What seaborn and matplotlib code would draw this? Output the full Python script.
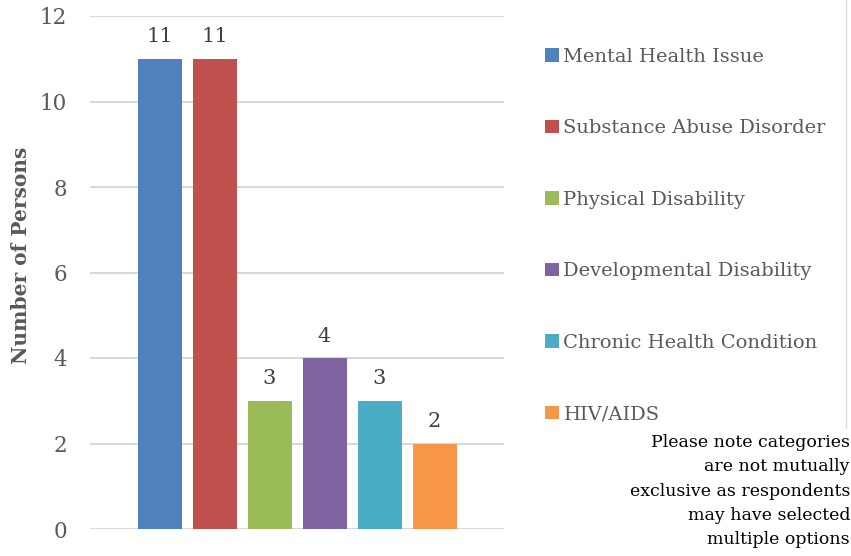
import matplotlib
matplotlib.use("Agg")
import matplotlib.pyplot as plt
import seaborn as sns
import pandas as pd
from matplotlib.lines import Line2D

categories = ["Mental Health Issue", "Substance Abuse Disorder", "Physical Disability",
              "Developmental Disability", "Chronic Health Condition", "HIV/AIDS"]
persons = [11, 11, 3, 4, 3, 2]
colors = ["#4F81BD", "#C0504D", "#9BBB59", "#8064A2", "#4BACC6", "#F79646"]
y_ticks = [0, 2, 4, 6, 8, 10, 12]
note = ("Please note categories\nare not mutually\nexclusive as respondents\n"
        "may have selected\nmultiple options")

sns.set_theme(style="white")
plt.rcParams["font.family"] = ["DejaVu Serif"]

df = pd.DataFrame({"category": categories, "persons": persons})

fig = plt.figure(figsize=(8.51, 5.56), dpi=100)
ax = fig.add_axes([90 / 851, 1 - 529 / 556, 414 / 851, 513 / 556])

sns.barplot(data=df, x="category", y="persons", hue="category",
            palette=colors, width=0.8, saturation=1, linewidth=0,
            legend=True, ax=ax)

ax.set_ylim(0, 12)
ax.set_yticks(y_ticks)
ax.set_xlim(2.5 - 414 / 55 / 2, 2.5 + 414 / 55 / 2)
ax.set_xticks([])
ax.set_xlabel("")
ax.set_ylabel("Number of Persons", fontsize=14.5, fontweight="bold", color="#595959")
ax.yaxis.set_label_coords((31 - 90) / 414, (529 - 255) / 513)
ax.tick_params(axis="y", labelsize=15.5, colors="#595959", length=0, pad=16.5)
for lbl in ax.get_yticklabels():
    lbl.set_color("#595959")
ax.grid(axis="y", color="#D9D9D9", linewidth=1.5)
ax.set_axisbelow(True)
for s in ax.spines.values():
    s.set_visible(False)

for cont in ax.containers:
    ax.bar_label(cont, fontsize=15, color="#404040", padding=9)

handles, labels = ax.get_legend_handles_labels()
ax.legend_.remove()
fig.legend(handles, labels, loc="upper left", bbox_to_anchor=(545 / 851, 1 - 48 / 556),
           frameon=False, fontsize=14, labelcolor="#595959",
           handlelength=0.7, handleheight=0.7, handletextpad=0.25,
           labelspacing=2.75, borderaxespad=0, borderpad=0)

fig.add_artist(Line2D([846 / 851, 846 / 851], [1.0, 1 - 428 / 556],
                      transform=fig.transFigure, color="#D9D9D9", linewidth=1))

fig.text(850 / 851, 1 - 434 / 556, note, ha="right", va="top", fontsize=12.5,
         color="black", linespacing=1.56, multialignment="right")

fig.savefig("out.png", dpi=100)
